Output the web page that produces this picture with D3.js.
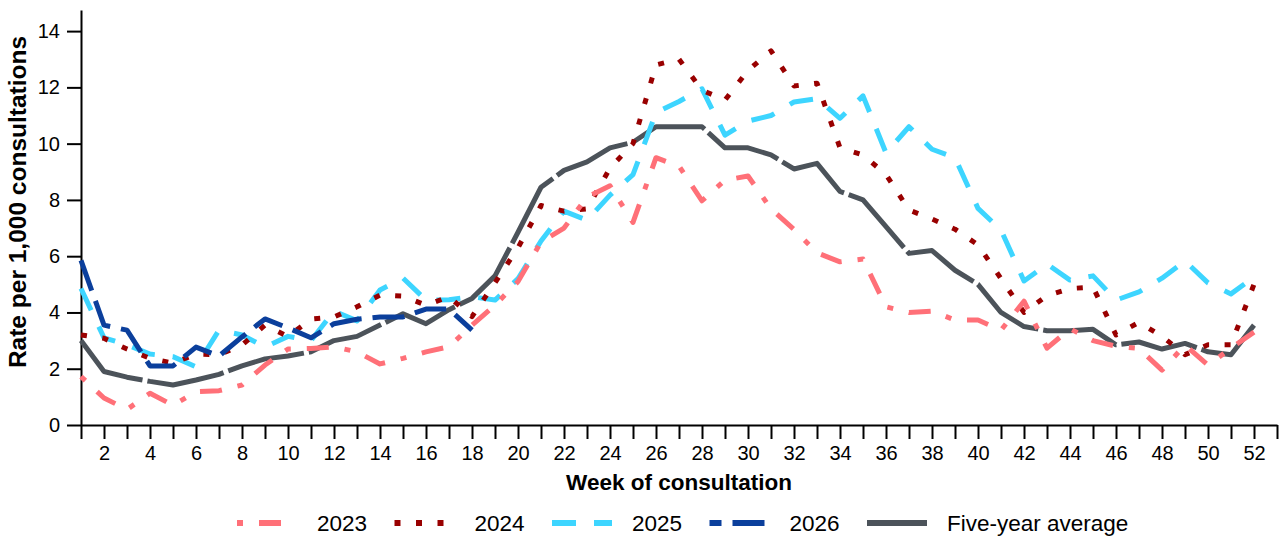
<!DOCTYPE html>
<html>
<head>
<meta charset="utf-8">
<script src="https://cdn.jsdelivr.net/npm/d3@7"></script>
<style>
  body { margin: 0; background: #fff; }
  svg { display: block; font-family: "Liberation Sans", Arial, sans-serif; }
</style>
</head>
<body>
<svg id="chart" width="1280" height="538"></svg>
<script>
// weekly consultation rates
const weeks = d3.range(1, 53);

const rate2023 = [1.72, 0.96, 0.55, 1.13, 0.7, 1.18, 1.22, 1.42, 2.13, 2.7, 2.72, 2.78, 2.6,
    2.17, 2.37, 2.6, 2.78, 3.55, 4.26, 5.1, 6.5, 7.0, 8.1, 8.5, 7.2, 9.5, 9.2, 7.97, 8.7, 8.85,
    7.68, 6.95, 6.12, 5.8, 5.9, 4.2, 4.0, 4.05, 3.73, 3.73, 3.37, 4.4, 2.73, 3.42, 3.0, 2.8,
    2.72, 1.95, 2.84, 2.13, 2.73, 3.3];

const rate2024 = [3.2, 3.08, 2.7, 2.37, 2.2, 2.52, 2.5, 2.84, 3.55, 3.14, 3.77, 3.84, 4.2,
    4.62, 4.58, 4.26, 4.56, 3.85, 5.06, 6.3, 7.8, 7.6, 7.68, 9.13, 10.0, 12.8, 13.0, 11.9,
    11.55, 12.6, 13.3, 12.05, 12.15, 9.85, 9.6, 8.9, 7.64, 7.32, 6.96, 6.4, 5.2, 4.0, 4.6,
    4.85, 4.9, 3.2, 3.65, 3.15, 2.5, 2.85, 2.85, 5.0];

const rate2025 = [4.85, 3.1, 2.85, 2.52, 2.43, 2.07, 3.37, 3.2, 2.77, 3.15, 3.0, 4.05, 3.7,
    4.8, 5.22, 4.44, 4.45, 4.56, 4.44, 5.2, 6.54, 7.6, 7.28, 8.17, 8.9, 11.1, 11.5, 11.95,
    10.3, 10.8, 11.0, 11.48, 11.6, 10.9, 11.7, 9.67, 10.6, 9.8, 9.5, 7.7, 6.93, 5.12, 5.72,
    5.15, 5.3, 4.44, 4.73, 5.22, 5.83, 5.05, 4.66, 5.26];

// 2026 only has data for the first weeks
const rate2026 = [5.85, 3.55, 3.37, 2.1, 2.1, 2.77, 2.45, 3.13, 3.77, 3.45, 3.1, 3.6, 3.76,
    3.84, 3.84, 4.12, 4.12, 3.37];

const fiveYearAvg = [3.0, 1.9, 1.7, 1.55, 1.42, 1.6, 1.8, 2.1, 2.35, 2.45, 2.6, 3.0, 3.15,
    3.55, 3.95, 3.6, 4.1, 4.5, 5.3, 6.85, 8.45, 9.05, 9.35, 9.85, 10.05, 10.6, 10.6, 10.6,
    9.85, 9.85, 9.6, 9.1, 9.3, 8.3, 8.0, 7.05, 6.1, 6.2, 5.5, 5.0, 4.0, 3.5, 3.35, 3.35, 3.4,
    2.85, 2.95, 2.7, 2.9, 2.6, 2.5, 3.55];

const seriesNames = ["2023", "2024", "2025", "2026", "Five-year average"];
const yTicks = [0, 2, 4, 6, 8, 10, 12, 14];
const xTicks = d3.range(1, 54);

const svg = d3.select("#chart");

const margin = {left: 81, right: 3, top: 10, bottom: 113};
const width = 1280;
const height = 538;

let x = d3.scaleLinear()
    .domain([1, 53])
    .range([margin.left, width - margin.right]);

let y = d3.scaleLinear()
    .domain([0, 14.75])
    .range([height - margin.bottom, margin.top]);

// one entry per line, in legend order
let series = [
    {name: seriesNames[0], values: rate2023, color: "#ff7078", dash: "6,16,22,16", legendOffset: 0},
    {name: seriesNames[1], values: rate2024, color: "#990000", dash: "6,15.5", legendOffset: 0},
    {name: seriesNames[2], values: rate2025, color: "#3dd5ff", dash: "24,18", legendOffset: 0},
    {name: seriesNames[3], values: rate2026, color: "#0b3f9c", dash: "32,11", legendOffset: 20},
    {name: seriesNames[4], values: fiveYearAvg, color: "#4c535a", dash: "78,5", legendOffset: 0}
];

// axes
let xAxis = d3.axisBottom(x)
    .tickValues(xTicks)
    .tickSize(14)
    .tickSizeOuter(0)
    .tickPadding(7)
    .tickFormat(d => (d % 2 === 0 && d <= 52) ? d : "");

let yAxis = d3.axisLeft(y)
    .tickValues(yTicks)
    .tickSize(14)
    .tickSizeOuter(0)
    .tickPadding(7);

let gx = svg.append("g")
    .attr("transform", "translate(0," + y(0) + ")")
    .call(xAxis);

let gy = svg.append("g")
    .attr("transform", "translate(" + x(1) + ",0)")
    .call(yAxis);

[gx, gy].forEach(g => {
    g.selectAll("path, line").attr("stroke", "#000").attr("stroke-width", 2);
    g.selectAll("text").attr("fill", "#000").style("font-size", "20px").attr("font-family", null);
});

// lines
let line = d3.line()
    .x((d, i) => x(weeks[i]))
    .y(d => y(d));

let drawOrder = [4, 2, 1, 0, 3];

svg.append("g")
    .selectAll("path")
    .data(drawOrder.map(i => series[i]))
    .enter().append("path")
    .attr("d", d => line(d.values))
    .attr("fill", "none")
    .attr("stroke", d => d.color)
    .attr("stroke-width", 5)
    .attr("stroke-linejoin", "round")
    .attr("stroke-dasharray", d => d.dash);

// axis titles
svg.append("text")
    .attr("x", (x.range()[0] + x.range()[1]) / 2)
    .attr("y", 490)
    .attr("text-anchor", "middle")
    .style("font-size", "22.5px")
    .style("font-weight", "bold")
    .text("Week of consultation");

svg.append("text")
    .attr("transform", "translate(26,202) rotate(-90)")
    .attr("text-anchor", "middle")
    .style("font-size", "24.5px")
    .style("font-weight", "bold")
    .text("Rate per 1,000 consultations");

// legend
let legend = svg.append("g")
    .selectAll("g")
    .data(series)
    .enter().append("g")
    .attr("transform", (d, i) => "translate(" + (237 + i * 157.5) + ",523)");

legend.append("line")
    .attr("x1", 0)
    .attr("x2", 60)
    .attr("stroke", d => d.color)
    .attr("stroke-width", 6)
    .attr("stroke-dasharray", d => d.dash)
    .attr("stroke-dashoffset", d => d.legendOffset);

legend.append("text")
    .attr("x", 80)
    .attr("dy", "0.35em")
    .style("font-size", "22.5px")
    .text(d => d.name);
</script>
</body>
</html>
